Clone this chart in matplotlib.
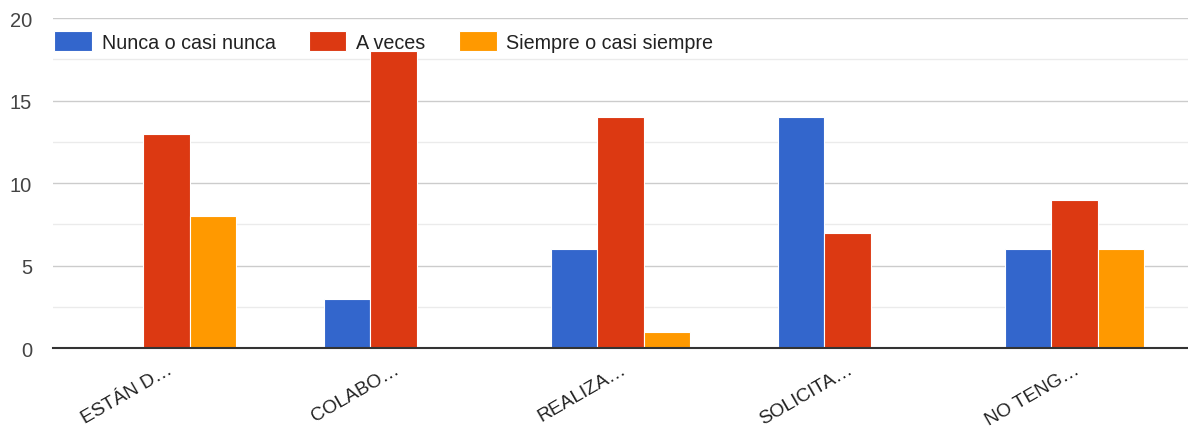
import numpy as np
import matplotlib
matplotlib.use('Agg')
import matplotlib.pyplot as plt

plt.rcParams['font.family'] = ['Liberation Sans', 'DejaVu Sans']

# Datos
categorias = ['ESTÁN D…', 'COLABO…', 'REALIZA…', 'SOLICITA…', 'NO TENG…']
series = ['Nunca o casi nunca', 'A veces', 'Siempre o casi siempre']
nunca = [0, 3, 6, 14, 6]
a_veces = [13, 18, 14, 7, 9]
siempre = [8, 0, 1, 0, 6]
colores = ['#3366cc', '#dc3912', '#ff9900']

fig = plt.figure(figsize=(11.88, 4.35), dpi=100)
ax = fig.add_axes([0.0446, 0.1977, 0.9554, 0.7586])

x = np.arange(len(categorias))
ancho = 0.203
for i, (datos, nombre, color) in enumerate(zip([nunca, a_veces, siempre], series, colores)):
    ax.bar(x + (i - 1) * ancho, datos, ancho, color=color, label=nombre,
           edgecolor='white', linewidth=0.8, zorder=3)

ax.set_xlim(-0.5, len(categorias) - 0.5)
ax.set_ylim(0, 20)
ax.set_yticks([0, 5, 10, 15, 20])
ax.set_yticks([2.5, 7.5, 12.5, 17.5], minor=True)
ax.grid(axis='y', which='major', color='#cccccc', linewidth=1, zorder=0)
ax.grid(axis='y', which='minor', color='#ebebeb', linewidth=1, zorder=0)
ax.tick_params(axis='y', which='both', length=0, labelsize=14.5, labelcolor='#444444', pad=15)
ax.tick_params(axis='x', length=0, pad=9)
ax.set_xticks(x)
ax.set_xticklabels(categorias, rotation=30, ha='right', rotation_mode='anchor',
                   fontsize=13.8, color='#222222')
for s in ['top', 'right', 'left']:
    ax.spines[s].set_visible(False)
ax.spines['bottom'].set_color('#333333')
ax.spines['bottom'].set_linewidth(1.5)
ax.spines['bottom'].set_zorder(4)

ax.legend(ncol=3, loc='upper left', bbox_to_anchor=(0.039, 0.944), bbox_transform=fig.transFigure,
          frameon=False, fontsize=14.2, handlelength=1.9, handleheight=1.2,
          handletextpad=0.5, columnspacing=1.7, labelcolor='#222222', borderaxespad=0)

plt.savefig('out.png', dpi=100)
